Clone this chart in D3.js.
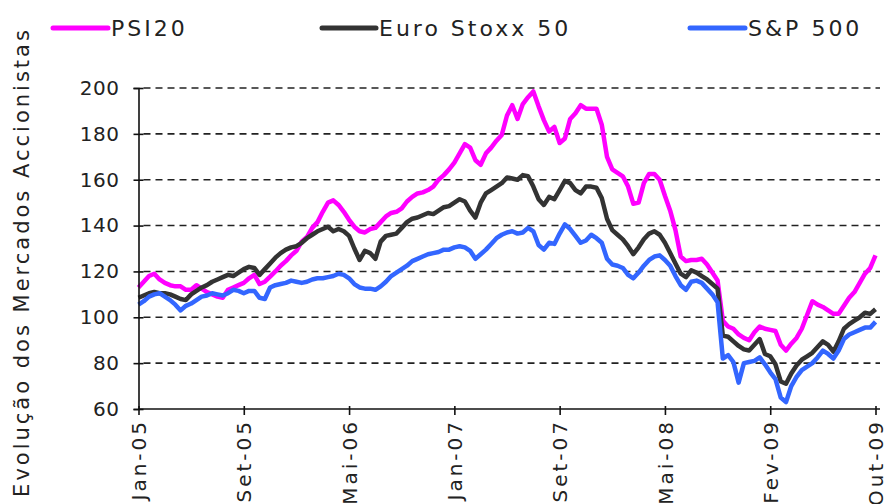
<!DOCTYPE html>
<html>
<head>
<meta charset="utf-8">
<script src="https://cdn.jsdelivr.net/npm/d3@7"></script>
<style>
  html, body { margin: 0; padding: 0; background: #fff; }
  svg { display: block; }
  text { font-family: "DejaVu Sans", Verdana, sans-serif; fill: #222; }
</style>
</head>
<body>
<script>
// ---- data (index-based, ~weekly samples; x labels every 20 samples) ----
const xLabels = ["Jan-05", "Set-05", "Mai-06", "Jan-07", "Set-07", "Mai-08", "Fev-09", "Out-09"];
const labelStep = 20;
const yTicks = [60, 80, 100, 120, 140, 160, 180, 200];
const seriesNames = ["PSI20", "Euro Stoxx 50", "S&P 500"];
const seriesColors = ["#ff00ff", "#333333", "#3366ff"];

const psi20 = [
  113, 115.5, 118, 119, 116.5, 115, 114, 113.5, 113.5, 112,
  112, 114, 112.5, 111, 110, 109, 108.5, 112, 113, 114,
  115, 117, 118.5, 114.5, 115.5, 117.7, 120, 122.5, 124.5, 127,
  129, 133, 135, 139, 141.5, 146, 150, 151, 149, 146,
  142.5, 139.5, 137.5, 137, 138.5, 139, 141.5, 144, 145.5, 146,
  147.5, 150.5, 152.5, 154, 154.5, 155.5, 157, 160, 162, 164.5,
  167.5, 171.5, 175.5, 174, 168.5, 166.5, 171.5, 174, 177, 179.5,
  188, 192.5, 186.5, 193, 196, 198.5, 192, 186, 181, 183,
  176, 178, 186.5, 189, 192.5, 191, 191, 191, 184, 170,
  164.5, 163, 161.5, 157, 149.5, 150, 158.5, 162.5, 162.5, 160,
  153, 146.5, 138, 126.5, 124.5, 125, 125, 125.5, 123, 119.5,
  116, 98.5, 96, 95, 92.5, 91, 90, 93.5, 96, 95,
  94.5, 94, 88, 85.5, 88.5, 91, 95, 101, 107, 105.5,
  104.5, 103, 101.5, 101.5, 105, 108.5, 111, 115, 119, 121.5,
  127
];
const euroStoxx50 = [
  108.5, 109.5, 110.5, 111, 110.5, 110.5, 110, 109, 108, 107.5,
  110, 111.5, 113, 114, 115.5, 116.5, 117.5, 118.5, 118, 119.5,
  121, 122, 121.5, 118.5, 121, 123.5, 126, 128, 129.5, 130.5,
  131, 132.5, 134.5, 136, 137.5, 138.5, 139.5, 137.5, 138.5, 137.5,
  135.5, 130, 125, 129, 128, 125.5, 133, 135.5, 136, 136.5,
  139, 141.5, 143, 143.5, 144.5, 145.5, 145, 146.5, 148, 148.5,
  150, 151.5, 150.5, 146.5, 143.5, 150, 154, 155.5, 157, 158.5,
  161, 160.5, 160, 162, 161.5, 157, 151.5, 149, 152.5, 151.5,
  155.5, 159.5, 158.5, 155.5, 154, 157, 157, 156.5, 152, 143,
  138, 136, 134, 131, 127.5, 130.5, 134, 136.5, 137.5, 136,
  132.5, 128, 123.5, 119, 117.5, 120.5, 119.5, 118, 116.5, 114.5,
  112.5, 92, 91.5, 89.5, 87.5, 86, 85.5, 88, 90.5, 84,
  83, 79.5, 72, 71, 75.5, 79, 81.5, 83, 84.5, 87,
  89.5, 88, 85, 89.5, 95, 97, 98.5, 100, 102, 101.5,
  103.5
];
const sp500 = [
  105.5, 107, 109, 110, 110.5, 109, 107.5, 105.5, 103, 105,
  106, 107.5, 109, 109.5, 110.5, 110, 109.5, 110.5, 112, 111.5,
  110.5, 111.5, 111.5, 108.5, 108, 113, 114, 114.5, 115, 116,
  115.5, 115, 115.5, 116.5, 117, 117, 117.5, 118, 119, 118.5,
  117, 114.5, 113, 112.5, 112.5, 112, 113.5, 115.5, 118, 119.5,
  121, 122.5, 124.5, 125.5, 126.5, 127.5, 128, 128.5, 129.5, 129.5,
  130.5, 131, 130.5, 129, 125.5, 127.5, 129.5, 132, 134.5, 136,
  137, 137.5, 136.5, 137, 139, 137.5, 131.5, 129.5, 132.5, 132,
  136.5, 140.5, 138.5, 135.5, 132.5, 133.5, 136, 134.5, 132.5, 125.5,
  123, 122.5, 121.5, 118.5, 117, 119.5, 122.5, 125, 126.5, 127,
  125, 122.5, 118, 114, 112, 115.5, 116, 115, 112.5, 110,
  106.5, 82, 83.5, 80.5, 71.5, 80, 80.5, 81, 82.5, 79.5,
  76, 73, 65, 63, 70, 74, 77, 78.5, 80, 82.5,
  85.5, 84, 82, 85.5, 90.5, 92.5, 93.5, 94.5, 95.5, 95.5,
  98
];
const allSeries = [psi20, euroStoxx50, sp500];

// ---- layout ----
const W = 885, H = 504;
const plot = { left: 138.5, right: 875.5, top: 88, bottom: 409 };

const svg = d3.select("body").append("svg").attr("width", W).attr("height", H);

const nPts = psi20.length;
const x = d3.scaleLinear().domain([0, nPts - 1]).range([plot.left, plot.right]);
const y = d3.scaleLinear().domain([60, 200]).range([plot.bottom, plot.top]);

// gridlines
svg.append("g").selectAll("line")
  .data(yTicks.filter(d => d > 60))
  .join("line")
  .attr("x1", plot.left + 5).attr("x2", 880)
  .attr("y1", d => y(d)).attr("y2", d => y(d))
  .attr("stroke", "#222").attr("stroke-width", 1.6)
  .attr("stroke-dasharray", "7,5");

// series lines
const line = d3.line().x((d, i) => x(i)).y(d => y(d));
allSeries.forEach((s, k) => {
  svg.append("path")
    .datum(s)
    .attr("fill", "none")
    .attr("stroke", seriesColors[k])
    .attr("stroke-width", 4.5)
    .attr("stroke-linejoin", "round")
    .attr("d", line);
});

// y axis
const yAxis = svg.append("g")
  .attr("transform", `translate(${plot.left},0)`)
  .call(d3.axisLeft(y).tickValues(yTicks).tickSize(5).tickPadding(14).tickFormat(d3.format("d")));
yAxis.select(".domain").attr("stroke", "#111").attr("stroke-width", 1.6);
yAxis.selectAll(".tick line").attr("x2", 5).attr("x1", -5).attr("stroke", "#111").attr("stroke-width", 1.6);
yAxis.selectAll(".tick text")
  .style("font-size", "20px").style("letter-spacing", "0.5px")
  .attr("fill", "#222");

// x axis
const xTickVals = xLabels.map((d, i) => i * labelStep);
const xAxis = svg.append("g")
  .attr("transform", `translate(0,${plot.bottom})`)
  .call(d3.axisBottom(x).tickValues(xTickVals).tickSize(6)
    .tickFormat((d, i) => xLabels[i]));
xAxis.select(".domain").attr("stroke", "#111").attr("stroke-width", 1.6)
  .attr("d", `M${plot.left},0H880`);
xAxis.selectAll(".tick line").attr("y1", -3).attr("y2", 6).attr("stroke", "#111").attr("stroke-width", 1.6);
xAxis.selectAll(".tick text")
  .attr("transform", "rotate(-90)")
  .attr("x", -10).attr("y", 0).attr("dy", "0.36em")
  .attr("text-anchor", "end")
  .style("font-size", "20px").style("letter-spacing", "3px")
  .attr("fill", "#222");

// y title
svg.append("text")
  .attr("transform", "translate(29,262) rotate(-90)")
  .attr("text-anchor", "middle")
  .style("font-size", "21px").style("letter-spacing", "3px")
  .text("Evolução dos Mercados Accionistas");

// legend
const legendPos = [
  { x1: 53, x2: 108, tx: 111 },
  { x1: 322, x2: 376, tx: 379 },
  { x1: 690, x2: 745, tx: 748 }
];
const lg = svg.append("g");
seriesNames.forEach((name, k) => {
  const p = legendPos[k];
  lg.append("line").attr("x1", p.x1).attr("x2", p.x2).attr("y1", 28).attr("y2", 28)
    .attr("stroke", seriesColors[k]).attr("stroke-width", 5).attr("stroke-linecap", "round");
  lg.append("text").attr("x", p.tx).attr("y", 36)
    .style("font-size", "22px").style("letter-spacing", "3px")
    .text(name);
});
</script>
</body>
</html>
